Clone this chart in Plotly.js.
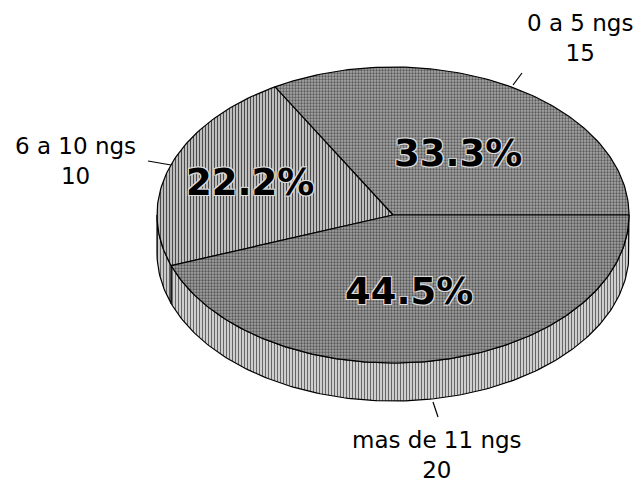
<!DOCTYPE html>
<html>
<head>
<meta charset="utf-8">
<script src="https://cdn.plot.ly/plotly-3.0.1.min.js"></script>
<style>html,body{margin:0;padding:0;background:#fff;}#chart{width:641px;height:482px;}</style>
</head>
<body>
<div id="chart"></div>
<script>
// ---- data ----
const categories = ["0 a 5 ngs", "6 a 10 ngs", "mas de 11 ngs"];
const values = [15, 10, 20];
const pctLabels = ["33.3%", "22.2%", "44.5%"];

// ---- styling / geometry ----
const W = 641, H = 482;
const CX = 393, CY = 215, RX = 236;      // pixel placement of ellipse centre, radius
const RY = 148 / RX, DEPTH = 38 / RX;   // in data units (rx = 1)
const topFill = [
  {bg: "#a6a6a6", fg: "#5a5a5a", shape: ".", size: 3, sol: 0.45},
  {bg: "#bdbdbd", fg: "#4a4a4a", shape: "|", size: 3, sol: 0.35},
  {bg: "#a2a2a2", fg: "#555555", shape: ".", size: 3, sol: 0.45}
];
const sideFill = [
  {bg: "#cfcfcf", fg: "#5a5a5a", shape: "|", size: 3, sol: 0.3},
  {bg: "#cacaca", fg: "#555555", shape: "|", size: 3, sol: 0.3},
  {bg: "#cfcfcf", fg: "#5a5a5a", shape: "|", size: 3, sol: 0.3}
];
// label placement (pixels)
const labelPos = [[580, 38], [75, 161], [437, 455]];
const pctPos = [[458, 153], [250, 182], [409, 291]];
const leaders = [[[513, 85], [522, 73]], [[148, 161], [171, 165]], [[433, 402], [438, 417]]];

const total = values.reduce((a, b) => a + b, 0);
const deg = Math.PI / 180;
function arc(a1, a2, dy) {
  const pts = [];
  const n = Math.max(2, Math.ceil(Math.abs(a2 - a1)));
  for (let i = 0; i <= n; i++) {
    const t = (a1 + (a2 - a1) * i / n) * deg;
    pts.push([Math.cos(t), RY * Math.sin(t) - dy]);
  }
  return pts;
}

const traces = [];
const angles = [];
let acc = 0;
values.forEach(v => { const a1 = acc / total * 360; acc += v; angles.push([a1, acc / total * 360]); });

function pat(f) {
  return {shape: f.shape, bgcolor: f.bg, fgcolor: f.fg, size: f.size, solidity: f.sol};
}

// sides (visible lower half, 180..360 deg)
angles.forEach(([a1, a2], i) => {
  const s = Math.max(a1, 180), e = Math.min(a2, 360);
  if (e <= s) return;
  const pts = arc(s, e, 0).concat(arc(e, s, DEPTH));
  pts.push(pts[0]);
  traces.push({
    x: pts.map(p => p[0]), y: pts.map(p => p[1]),
    mode: "lines", fill: "toself", fillcolor: sideFill[i].bg,
    fillpattern: pat(sideFill[i]),
    line: {color: "#000", width: 1.2}, hoverinfo: "skip", showlegend: false
  });
});

// top face wedges
angles.forEach(([a1, a2], i) => {
  const pts = [[0, 0]].concat(arc(a1, a2, 0));
  pts.push([0, 0]);
  traces.push({
    x: pts.map(p => p[0]), y: pts.map(p => p[1]),
    mode: "lines", fill: "toself", fillcolor: topFill[i].bg,
    fillpattern: pat(topFill[i]),
    line: {color: "#000", width: 1.2}, hoverinfo: "skip", showlegend: false
  });
});

const px2x = x => (x - CX) / RX;
const px2y = y => (CY - y) / RX;

const annotations = [];
categories.forEach((c, i) => {
  annotations.push({
    x: labelPos[i][0] / W, y: 1 - labelPos[i][1] / H, xref: "paper", yref: "paper",
    text: c + "<br>" + values[i], showarrow: false, align: "center",
    xanchor: "center", yanchor: "middle",
    font: {family: "DejaVu Sans, Arial, sans-serif", size: 23, color: "#000"}
  });
  annotations.push({
    x: pctPos[i][0] / W, y: 1 - pctPos[i][1] / H, xref: "paper", yref: "paper",
    text: "<b>" + pctLabels[i] + "</b>", showarrow: false,
    xanchor: "center", yanchor: "middle",
    font: {family: "DejaVu Sans, Arial, sans-serif", size: 37, color: "#000",
           shadow: "1px 1px 0 #ddd, -1px -1px 0 #ddd, 1px -1px 0 #ddd, -1px 1px 0 #ddd"}
  });
});

const shapes = leaders.map(([p, q]) => ({
  type: "line", xref: "paper", yref: "paper",
  x0: p[0] / W, y0: 1 - p[1] / H, x1: q[0] / W, y1: 1 - q[1] / H,
  line: {color: "#000", width: 1.2}
}));

const layout = {
  width: W, height: H,
  margin: {l: 0, r: 0, t: 0, b: 0},
  paper_bgcolor: "#fff", plot_bgcolor: "#fff",
  xaxis: {range: [px2x(0), px2x(W)], visible: false, fixedrange: true},
  yaxis: {range: [px2y(H), px2y(0)], visible: false, fixedrange: true},
  showlegend: false,
  annotations: annotations,
  shapes: shapes
};

Plotly.newPlot("chart", traces, layout, {displayModeBar: false, staticPlot: true});
</script>
</body>
</html>
